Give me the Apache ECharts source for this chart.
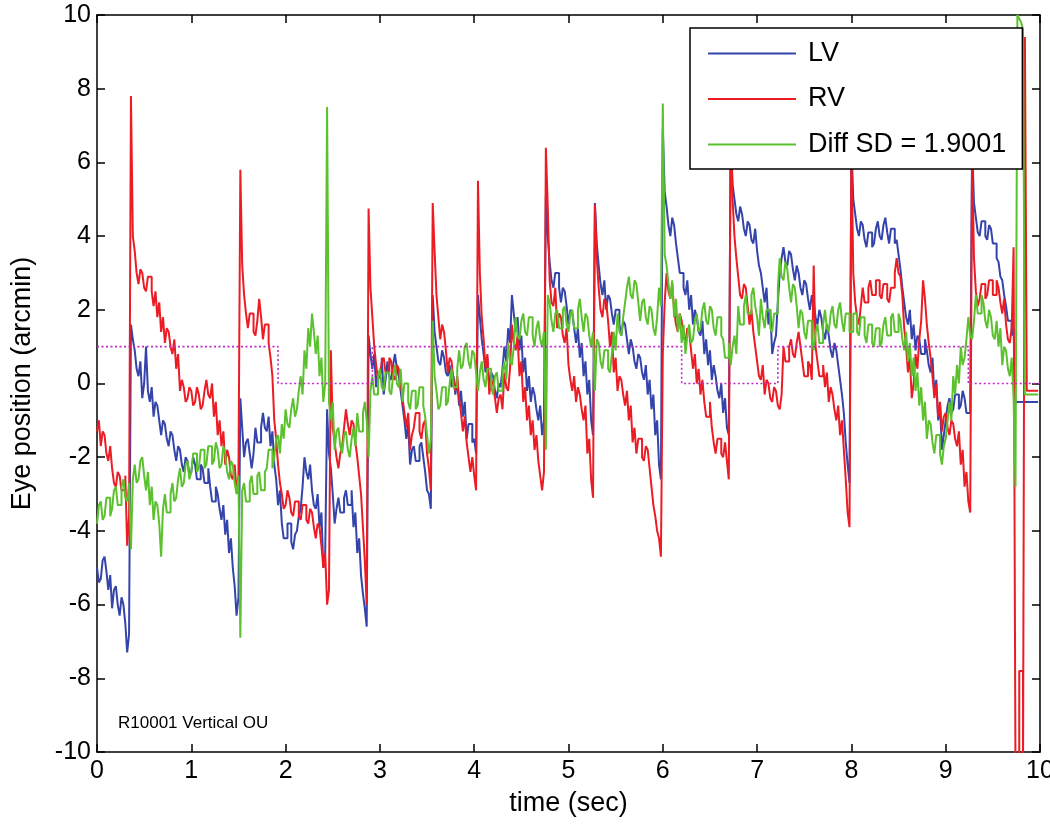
<!DOCTYPE html>
<html>
<head>
<meta charset="utf-8">
<title>Eye position</title>
<script src="https://cdn.jsdelivr.net/npm/echarts@6/dist/echarts.min.js"></script>
<style>
  html, body { margin: 0; padding: 0; background: #fff; }
  #chart { width: 1050px; height: 827px; }
</style>
</head>
<body>
<div id="chart"></div>
<script>
// sampling interval of the traces (seconds)
const sampleStep = 0.02;

// LV trace (arcmin), one row per second
const lv = [
  -5.0,-5.4, -5.3,-4.8, -4.7,-5.1, -5.6,-5.2, -6.1,-5.6, -5.5,-6.0, -6.3,-5.8, -6.0,-6.5, -7.3,-6.8, 1.6,1.2, 0.9,0.4, 0.2,0.6, -0.4,0.0, 1.0,-0.2, -0.5,-0.1, -0.9,-0.5, -0.6,-1.0, -1.4,-1.0, -1.1,-1.5, -1.7,-1.3, -1.4,-1.8, -2.1,-1.7, -1.8,-2.2, -2.4,-2.0, -2.1,-2.5,
  -2.4,-2.0, -2.2,-2.6, -2.6,-2.2, -2.3,-2.7, -2.7,-2.3, -2.8,-3.2, -3.2,-2.8, -3.0,-3.4, -3.7,-3.3, -4.1,-3.7, -4.6,-4.2, -5.0,-5.5, -6.3,-5.8, -0.4,-1.2, -2.0,-1.6, -1.5,-1.9, -2.3,-1.9, -1.2,-1.6, -1.6,-1.2, -0.8,-1.2, -1.3,-0.9, -1.7,-1.3, -2.2,-2.6, -3.3,-2.9, -3.8,-4.2,
  -4.2,-3.8, -3.8,-4.3, -4.5,-4.1, -4.0,-3.6, -3.4,-2.8, -2.0,-2.4, -2.6,-2.2, -2.9,-3.3, -3.4,-3.0, -3.9,-3.5, -5.0,-4.6, -0.7,-1.9, -2.3,-3.0, -3.8,-3.4, -3.1,-3.5, -3.5,-3.1, -2.9,-3.3, -3.3,-2.9, -3.9,-3.5, -4.6,-4.2, -5.2,-5.7, -6.1,-6.6, 1.3,0.8, 0.4,0.8, -0.1,0.3,
  0.3,0.7, -0.3,0.1, 0.6,0.2, 0.1,0.5, 0.8,0.4, 0.2,-0.2, -0.6,-1.0, -1.5,-1.1, -2.2,-1.8, -1.7,-2.1, -2.1,-1.7, -1.6,-2.0, -2.4,-2.9, -3.0,-3.4, 2.4,1.4, 1.0,0.6, 0.5,0.9, 0.7,0.3, 0.2,0.5, -0.1,0.2, -0.3,0.1, -0.6,-0.2, -0.9,-0.5, -1.5,-1.1, -1.1,-1.6,
  -1.5,-1.9, 2.4,1.8, 1.2,0.8, 0.3,0.7, -0.1,0.3, 0.2,-0.2, -0.4,0.0, -0.1,0.4, 1.0,0.6, 1.5,1.1, 2.4,1.9, 1.4,1.8, 0.9,1.3, 0.3,0.7, -0.2,0.2, -0.5,-0.1, -0.3,-0.7, -1.0,-0.6, -1.4,-1.0, 5.1,4.0, 3.3,2.8, 2.6,3.0, 3.0,2.6, 2.2,2.6, 2.5,2.1,
  1.6,2.0, 1.9,1.5, 1.1,1.5, 0.7,1.1, 0.2,0.6, -0.3,0.1, -1.0,-1.4, 4.9,3.8, 3.2,2.7, 2.4,2.8, 2.0,2.4, 2.3,1.9, 1.6,2.0, 2.0,1.6, 1.3,1.7, 1.6,1.2, 0.8,1.2, 1.0,0.6, 0.4,0.8, 0.7,0.3, 0.1,0.5, -0.3,0.1, -0.7,-0.3, -1.4,-1.0, -2.2,-2.6,
  6.9,5.2, 4.8,4.3, 4.0,4.5, 4.3,3.8, 3.4,3.0, 3.0,2.6, 2.4,2.8, 2.0,2.4, 1.6,2.0, 1.8,1.4, 1.3,1.7, 0.8,1.2, 0.5,0.9, 0.1,0.5, 0.2,-0.2, -0.4,0.0, -0.8,-0.4, -1.2,-1.4, 6.8,5.4, 5.0,4.6, 4.4,4.8, 4.6,4.2, 4.0,4.4, 4.3,3.9, 3.8,4.2,
  3.6,3.2, 3.0,2.6, 2.2,2.6, 1.6,2.0, 0.8,1.1, 1.3,2.2, 3.0,3.4, 3.7,3.3, 3.2,3.6, 3.5,3.1, 2.8,3.2, 3.0,2.6, 2.4,2.8, 2.7,2.3, 2.0,2.4, 2.2,1.8, 1.6,2.0, 1.8,1.4, 1.2,1.6, 1.3,0.9, 0.7,1.1, 0.9,0.5, 0.1,-0.3, -0.8,-1.6, -2.2,-2.7,
  6.5,5.0, 4.6,4.2, 4.0,4.4, 4.3,3.9, 3.7,4.1, 4.1,3.7, 3.8,4.2, 4.4,4.0, 3.9,4.3, 4.5,4.1, 3.8,4.2, 4.2,3.8, 3.9,3.5, 3.1,2.6, 2.2,1.8, 1.6,2.0, 1.2,1.6, 0.9,1.3, 1.2,0.8, 0.8,1.2, 0.9,0.5, 0.3,0.7, -0.3,0.1, -1.0,-0.6, -1.8,-1.4,
  -1.0,-0.6, -0.4,-0.8, -0.7,-0.3, -0.3,-0.7, -0.6,-0.2, -0.4,-0.8, -0.8,-0.4, 6.5,4.9, 4.5,4.1, 4.0,4.4, 4.4,4.0, 3.9,4.3, 4.2,3.8, 3.8,3.4, 3.3,2.9, 2.8,2.4, 2.1,1.7, 1.7,1.3, 1.5,-0.5, -0.5,-0.5, -0.5,-0.5, -0.5,-0.5, -0.5,-0.5, -0.5,-0.5, -0.5,-0.5
];

// RV trace (arcmin)
const rv = [
  -1.3,-1.0, -1.7,-1.3, -1.4,-1.9, -2.1,-1.7, -2.3,-2.7, -2.8,-2.4, -2.5,-2.9, -2.9,-2.5, -4.4,-3.6, 7.8,4.0, 3.6,3.0, 2.7,3.1, 3.0,2.6, 2.5,2.9, 2.9,2.5, 2.1,2.5, 1.8,2.2, 1.4,1.8, 1.1,1.5, 1.4,1.0, 0.8,1.2, 0.4,0.8, -0.2,0.1, -0.1,-0.5, -0.4,-0.1,
  -0.2,-0.6, -0.5,-0.1, -0.3,-0.7, -0.6,-0.2, 0.1,-0.3, -0.4,0.0, -0.9,-0.5, -1.4,-1.0, -1.7,-1.3, -2.2,-1.8, -2.0,-2.5, -2.6,-2.2, -2.9,-2.5, 5.8,3.2, 2.4,1.9, 1.5,1.9, 1.9,1.4, 1.3,1.7, 2.3,1.8, 1.2,1.6, 1.6,1.1, 0.7,0.2, -1.0,-1.5, -2.2,-2.7, -3.0,-3.4,
  -3.3,-2.9, -3.1,-3.5, -3.6,-3.2, -3.2,-3.6, -3.7,-3.3, -3.3,-3.7, -3.8,-3.4, -3.5,-3.9, -4.2,-3.8, -3.9,-4.4, -5.0,-4.6, -6.0,-5.6, 0.9,-1.2, -1.6,-2.0, -2.3,-1.9, -1.7,-1.2, -0.7,-1.1, -1.4,-1.0, -1.1,-1.6, -2.0,-2.5, -3.0,-3.9, -4.8,-6.0, 4.75,2.6, 1.8,1.0, 0.5,0.1,
  0.2,0.6, 0.7,0.3, 0.3,0.7, 0.6,0.2, 0.1,0.5, 0.4,0.0, -0.4,-0.8, -1.2,-0.8, -1.8,-1.4, -1.2,-0.8, -0.8,-1.3, -1.5,-1.1, -1.0,-1.9, -2.3,-2.9, 4.9,3.6, 2.4,1.8, 1.2,1.6, 1.4,0.9, 0.3,0.7, 0.6,0.1, -0.2,0.2, -0.4,-0.8, -1.3,-0.9, -1.6,-2.0, -2.4,-2.0,
  -2.5,-2.9, 5.5,3.0, 1.8,1.2, 0.4,0.8, -0.3,0.1, 0.0,-0.4, -0.8,-0.4, -0.3,-0.7, 0.3,-0.1, -0.2,0.4, 1.6,1.1, 0.9,1.3, 0.2,0.6, -0.5,-0.1, -1.0,-0.6, -1.4,-1.0, -1.8,-1.4, -2.1,-2.5, -2.9,-2.4, 6.4,4.8, 2.8,2.2, 2.1,2.6, 1.5,1.9, 1.8,1.3, 1.1,1.5,
  0.5,0.1, -0.2,0.2, -0.5,-0.1, -0.3,-0.7, -1.0,-0.6, -1.9,-1.5, -2.6,-3.1, 4.85,3.4, 2.6,2.0, 1.8,2.3, 2.2,1.7, 1.0,1.4, 0.3,0.7, -0.2,0.2, 0.1,-0.3, -0.6,-0.2, -1.0,-0.6, -1.6,-1.2, -1.9,-1.5, -1.5,-2.0, -2.1,-1.7, -1.8,-2.3, -2.8,-3.3, -3.6,-4.0, -4.2,-4.7,
  0.8,2.2, 3.0,2.5, 2.3,2.7, 2.0,1.6, 1.4,1.9, 1.7,1.3, 1.1,1.5, 1.4,0.9, 0.4,0.8, 0.0,0.4, -0.3,0.1, -0.5,-0.9, -0.9,-0.5, -1.2,-1.6, -1.9,-1.5, -1.5,-1.9, -2.0,-1.6, -2.1,-2.6, 7.2,5.0, 4.0,3.4, 2.9,2.4, 2.3,2.7, 2.6,2.1, 1.6,2.0, 1.4,1.0,
  0.6,0.2, 0.1,0.5, -0.3,0.1, 0.0,-0.4, -0.5,-0.1, -0.2,-0.6, -0.7,-0.3, 1.0,0.6, 0.6,1.0, 1.2,0.8, 0.7,1.1, 1.4,1.0, 0.6,0.2, 0.2,0.6, 0.5,0.1, 3.2,1.0, 0.6,0.2, 0.2,0.5, -0.1,0.3, -0.5,-0.1, -0.3,-0.7, -1.0,-0.6, -1.4,-1.0, -1.8,-2.6, -3.5,-3.9,
  6.5,3.0, 2.2,1.8, 1.6,2.1, 2.6,2.2, 2.2,2.6, 2.8,2.4, 2.4,2.8, 2.8,2.4, 2.3,2.7, 2.7,2.3, 2.2,2.6, 2.6,3.0, 3.4,3.0, 2.9,2.4, 1.5,1.0, 0.3,0.7, -0.4,0.0, 0.8,0.4, 1.2,1.7, 2.8,2.3, 1.6,1.1, 0.7,0.2, -0.4,0.0, -0.9,-0.5, -1.3,-0.9,
  -0.8,-1.2, -1.4,-1.0, -1.1,-1.5, -1.7,-1.3, -2.2,-1.8, -2.8,-2.4, -3.2,-3.5, 6.2,3.4, 2.5,2.1, 2.3,2.7, 2.7,2.3, 2.4,2.8, 2.8,2.4, 2.4,2.8, 2.6,2.2, 1.9,2.3, 1.6,1.2, 1.1,1.5, 3.7,-10.5, -10.5,-7.8, -7.8,-10.5, 9.4,-0.2, -0.2,-0.2, -0.2,-0.2, -0.2,-0.2
];

// Diff trace (arcmin)
const diff = [
  -3.8,-3.3, -3.2,-3.7, -3.6,-3.1, -3.1,-3.6, -3.4,-2.9, -2.8,-3.3, -3.3,-2.8, -2.6,-3.1, -3.2,-2.7, -4.5,-2.6, -2.2,-2.7, -2.6,-2.1, -2.0,-2.5, -2.9,-2.4, -3.3,-2.8, -3.7,-3.2, -3.3,-3.8, -4.7,-3.4, -3.0,-3.5, -3.5,-3.0, -2.7,-3.2, -3.1,-2.6, -2.3,-2.8, -2.7,-2.2, -2.1,-2.6,
  -2.4,-1.9, -1.9,-2.4, -2.3,-1.8, -1.8,-2.3, -2.2,-1.7, -1.7,-2.2, -2.1,-1.6, -1.8,-2.3, -2.2,-1.7, -1.9,-2.4, -2.6,-2.1, -2.2,-2.7, -3.0,-2.5, -6.9,-2.9, -2.7,-3.2, -3.2,-2.7, -2.5,-3.0, -3.0,-2.5, -2.4,-2.9, -2.9,-2.4, -2.3,-1.8, -1.8,-2.3, -2.0,-1.5, -1.4,-1.9, -1.1,-1.5,
  -0.7,-1.1, -1.2,-0.7, -0.4,-0.9, -0.7,-0.2, 0.2,-0.3, 0.9,0.4, 1.5,1.0, 1.9,1.4, 0.8,1.3, 0.2,0.7, -0.5,0.0, 7.5,-0.5, -1.0,-0.5, -1.8,-1.3, -1.2,-1.7, -1.9,-1.4, -1.3,-1.8, -2.0,-1.5, -1.2,-1.7, -0.8,-1.3, -1.3,-0.8, -0.5,-1.0, -2.0,-0.2, 0.2,-0.3, -0.3,0.2,
  0.4,-0.1, -0.2,0.3, 0.3,-0.2, -0.3,0.2, 0.5,0.0, -0.1,0.4, -0.5,0.0, 0.0,-0.5, -0.7,-0.2, -0.2,-0.7, -0.6,-0.1, -0.1,-0.6, -0.9,-1.4, -1.9,-1.5, 1.7,0.2, -0.2,-0.7, -0.6,-0.1, -0.1,-0.6, -0.5,0.0, 0.4,-0.1, -0.1,0.4, 0.9,0.4, 0.5,1.0, 1.1,0.6, 0.4,0.9,
  0.8,0.3, -0.2,0.3, 0.6,0.1, -0.1,0.4, 0.4,-0.1, -0.3,0.2, 0.3,-0.2, -0.2,0.3, 0.6,0.1, 1.1,0.6, 0.5,1.0, 1.8,1.3, 1.2,1.7, 1.9,1.4, 1.3,1.8, 1.8,1.3, 1.0,1.5, 1.7,1.2, 1.0,1.4, -1.8,2.4, 2.2,1.7, 1.4,1.9, 2.0,1.5, 1.5,2.0, 2.1,1.6,
  1.4,1.9, 2.0,1.5, 1.5,2.0, 2.3,1.8, 1.4,1.9, 1.8,1.3, 1.0,1.4, -0.2,1.2, 1.1,0.6, 0.4,0.9, 0.9,0.4, 0.3,0.8, 1.4,0.9, 1.9,1.4, 1.3,1.8, 2.2,2.6, 2.9,2.4, 2.3,2.8, 2.7,2.2, 1.7,2.2, 2.3,1.8, 1.6,2.1, 2.0,1.5, 1.3,1.8, 2.6,2.1,
  7.6,3.5, 3.2,2.7, 2.3,2.8, 1.8,2.3, 1.4,1.9, 1.1,1.6, 0.8,1.3, 1.6,1.1, 1.2,1.7, 1.9,1.4, 1.5,2.0, 2.2,1.7, 1.6,2.1, 2.0,1.5, 1.3,1.8, 1.8,1.3, 1.2,0.7, 0.7,1.1, 0.5,1.0, 1.3,0.8, 2.1,1.6, 1.6,2.1, 2.4,1.9, 1.9,2.4, 2.6,2.1,
  1.8,1.3, 2.3,1.8, 1.5,2.0, 2.0,1.5, 1.4,1.9, 1.9,2.6, 3.4,2.9, 2.8,3.3, 3.1,2.6, 2.2,2.7, 2.6,2.1, 1.5,2.0, 1.9,1.4, 1.2,1.7, 1.7,1.2, 0.9,1.4, 1.6,1.1, 1.1,1.6, 2.0,1.5, 1.4,1.9, 2.1,1.6, 1.5,2.0, 2.2,1.7, 1.4,1.9, 1.9,1.4,
  1.4,1.9, 1.9,1.4, 1.3,1.8, 1.8,1.3, 1.1,1.6, 1.6,1.1, 1.0,1.5, 1.5,1.0, 1.1,1.6, 1.8,1.3, 1.3,1.8, 1.9,1.4, 1.4,1.9, 1.7,1.2, 0.9,1.4, 0.6,1.1, 0.2,0.7, -0.2,0.3, -0.6,-0.1, -1.0,-0.5, -1.5,-1.0, -1.1,-1.6, -1.9,-1.4, -1.4,-1.9, -2.2,-1.7,
  -1.5,-1.0, -0.5,-1.0, 0.2,-0.3, 0.5,0.0, 1.0,0.5, 0.7,1.2, 1.8,1.3, 1.2,1.7, 2.4,1.9, 1.9,2.4, 2.2,1.7, 1.5,2.0, 1.8,1.3, 1.2,1.7, 1.0,1.5, 0.5,1.0, 0.9,0.4, 0.2,0.7, -0.4,-2.8, 10.0,9.9, 9.8,9.6, -0.3,-0.3, -0.3,-0.3, -0.3,-0.3, -0.3,-0.3
];

// dotted target trace: times where the level changes, and the levels
const targetTimes = [0, 1.92, 2.92, 6.2, 7.22, 9.24, 10];
const targetLevels = [1, 0, 1, 0, 1, 0, 0];

// axis ticks
const xTicks = { min: 0, max: 10, interval: 1 };
const yTicks = { min: -10, max: 10, interval: 2 };

const seriesNames = ['LV', 'RV', 'Diff SD = 1.9001'];
const seriesColors = ['#3444aa', '#ec1c24', '#5cc12e'];
const annotation = 'R10001 Vertical OU';

const time = lv.map((_, i) => +(i * sampleStep).toFixed(2));
const pairs = arr => time.map((t, i) => [t, arr[i]]);
const targetPairs = targetTimes.map((t, i) => [t, targetLevels[i]]);

const FONT = "'Liberation Sans', Arial, Helvetica, sans-serif";

const chart = echarts.init(document.getElementById('chart'), null, { renderer: 'canvas' });

const axisCommon = {
  type: 'value',
  splitLine: { show: false },
  axisLine: { show: true, onZero: false, lineStyle: { color: '#000', width: 1.5 } },
  axisTick: { show: true, inside: true, length: 8, lineStyle: { color: '#000', width: 1.5 } }
};

const lineSeries = (name, data, color, z) => ({
  name, type: 'line', data, step: 'end', symbol: 'none', showSymbol: false,
  clip: true, z, silent: true,
  lineStyle: { color, width: 2 }, itemStyle: { color }
});

chart.setOption({
  animation: false,
  backgroundColor: '#fff',
  textStyle: { fontFamily: FONT },
  title: {
    text: annotation, left: 113, top: 710,
    textStyle: { fontFamily: FONT, fontSize: 17, fontWeight: 'normal', color: '#000' }
  },
  grid: { left: 97, right: 10, top: 15, bottom: 75, containLabel: false, outerBoundsMode: 'none' },
  legend: {
    data: seriesNames, orient: 'vertical', left: 690, top: 28,
    padding: [12, 16, 11, 17], itemGap: 18.5, itemWidth: 88, itemHeight: 24,
    backgroundColor: '#fff', borderColor: '#000', borderWidth: 1.5, borderRadius: 0,
    selectedMode: false, z: 10,
    itemStyle: { opacity: 0 },
    textStyle: { fontFamily: FONT, fontSize: 27, color: '#000', padding: [0, 0, 0, 7] }
  },
  xAxis: [
    Object.assign({}, axisCommon, xTicks, {
      position: 'bottom',
      name: 'time (sec)', nameLocation: 'middle', nameGap: 38,
      nameTextStyle: { fontFamily: FONT, fontSize: 27, color: '#000' },
      axisLabel: { fontFamily: FONT, fontSize: 25, color: '#000', margin: 7 }
    }),
    Object.assign({}, axisCommon, xTicks, { position: 'top', axisLabel: { show: false } })
  ],
  yAxis: [
    Object.assign({}, axisCommon, yTicks, {
      position: 'left',
      name: 'Eye position (arcmin)', nameLocation: 'middle', nameGap: 61, nameRotate: 90,
      nameTextStyle: { fontFamily: FONT, fontSize: 27, color: '#000' },
      axisLabel: { fontFamily: FONT, fontSize: 25, color: '#000', margin: 6 }
    }),
    Object.assign({}, axisCommon, yTicks, { position: 'right', axisLabel: { show: false } })
  ],
  series: [
    lineSeries(seriesNames[0], pairs(lv), seriesColors[0], 2),
    lineSeries(seriesNames[1], pairs(rv), seriesColors[1], 3),
    lineSeries(seriesNames[2], pairs(diff), seriesColors[2], 4),
    {
      name: 'target', type: 'line', data: targetPairs, step: 'end', symbol: 'none',
      clip: true, z: 5, silent: true,
      lineStyle: { color: '#c02ac4', width: 1.6, type: [2, 2.5] }
    }
  ]
});
</script>
</body>
</html>
